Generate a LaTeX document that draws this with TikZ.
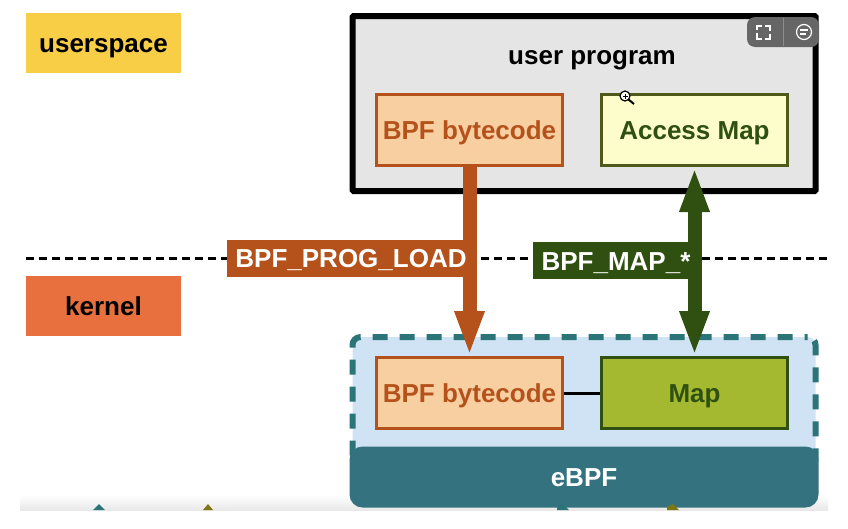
\documentclass[tikz,border=0pt]{standalone}
\usepackage{fontspec}
\setmainfont{Liberation Sans}
\usepackage{xcolor}
\usetikzlibrary{arrows.meta}
\definecolor{progfill}{HTML}{F8CFA0}
\definecolor{progline}{HTML}{B5521C}
\definecolor{mapdark}{HTML}{2F5010}
\definecolor{mapfill}{HTML}{A4B92F}
\definecolor{accessfill}{HTML}{FDFDCB}
\definecolor{accessline}{HTML}{4F5A1A}
\definecolor{tealdark}{HTML}{35727F}
\definecolor{tealdash}{HTML}{2B7578}
\definecolor{userfill}{HTML}{F7CE46}
\definecolor{kernfill}{HTML}{E8703F}
\definecolor{kernbg}{HTML}{CFE3F4}
\tikzset{
  lbl/.style={font=\fontsize{26}{30}\selectfont\bfseries, text height=19, text depth=0},
  tagbox/.style={lbl, minimum width=155, minimum height=60, inner sep=0},
  progbox/.style={lbl, draw=progline, line width=3, fill=progfill, text=progline,
    minimum width=186, minimum height=71, inner sep=0},
  mapbox/.style={lbl, draw=mapdark, line width=3, text=mapdark,
    minimum width=186, minimum height=71, inner sep=0},
  callbox/.style={lbl, text=white, inner sep=0, minimum height=37},
  callarrow/.style={line width=14, >={Triangle[length=45, width=27]}}
}
\begin{document}
\begin{tikzpicture}[x=1pt, y=-1pt]
    \useasboundingbox (0,0) rectangle (848,528);
    \shade[top color=white, bottom color=black!9, draw=none] (20,495) rectangle (828,510);

    % boundary
    \coordinate (lineL) at (26,258);
    \coordinate (lineR) at (828,258);
    \draw[line width=3, dash pattern=on 8 off 5] (lineL) -- (lineR);

    \node[tagbox, fill=userfill] (userspace) at (103.5,43) {userspace};
    \node[tagbox, fill=kernfill] (kernel) at (103.5,305.5) {kernel};

    % user side
    \node[draw, line width=6, fill=black!10, rounded corners=1, minimum width=463, minimum height=175, inner sep=0] (userprog) at (584,103.5) {};
    \node[lbl] (userlabel) at (592,55) {user program};
    \node[progbox] (progup) at (469.5,130) {BPF bytecode};
    \node[mapbox, draw=accessline, fill=accessfill] (access) at (694.5,130) {Access Map};

    % kernel side
    \node[draw=tealdash, line width=6, fill=kernbg, rounded corners=8, dash pattern=on 15 off 12, dash phase=12, minimum width=463, minimum height=130, inner sep=0] (kernbox) at (584,402) {};
    \node[fill=tealdark, text=white, lbl, rounded corners=13, minimum width=469, minimum height=61, inner sep=0] (ebpf) at (584,477) {eBPF};
    \node[progbox] (proglow) at (469.5,393) {BPF bytecode};
    \node[mapbox, fill=mapfill] (mapk) at (694.5,393) {Map};
    \draw[line width=3] (proglow) -- (mapk);

    % syscalls
    \draw[callarrow, progline, ->] (progup.south) -- (proglow.north);
    \draw[callarrow, mapdark, <->] (access.south) -- (mapk.north);
    \node[callbox, fill=progline, minimum width=249] (progload) at (351,258) {BPF\_PROG\_LOAD};
    \node[callbox, fill=mapdark, minimum width=159] (mapcall) at (612.5,260.5) {\hspace*{7pt}BPF\_MAP\_*};

    % tips cut off at the bottom
    \fill[tealdash] (93,510) -- (99,504) -- (105,510) -- cycle;
    \fill[olive!85!black] (203,510) -- (208,504) -- (213,510) -- cycle;
    \fill[tealdash] (557,507) -- (563,504) -- (569,510) -- (557,510) -- cycle;
    \fill[olive!85!black] (667,507) -- (673,504) -- (679,510) -- (667,510) -- cycle;

    % player buttons
    \fill[black!60, rounded corners=8] (747,17) rectangle (819,47);
    \draw[black!45, line width=.6] (783,18) -- (783,46);
    \draw[white, line width=1.2] (757,30) |- (762,26) (765,26) -| (770,31) (757,33) |- (762,39) (765,39) -| (770,34);
    \draw[white, line width=1.2] (804,32) circle (7.5);
    \draw[white, line width=1.2] (800,30) -- (808,30) (800,34) -- (806,34);

    % cursor
    \draw[line width=1.2, fill=white] (625,96) circle (5);
    \draw[line width=1] (622.5,96) -- (627.5,96) (625,93.5) -- (625,98.5);
    \draw[line width=2] (628.5,99.5) -- (634,104);
\end{tikzpicture}
\end{document}
